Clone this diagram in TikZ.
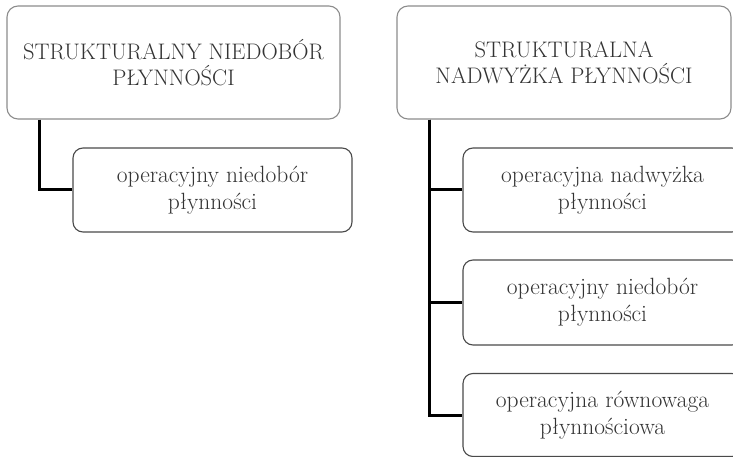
\documentclass[tikz,border=0pt]{standalone}
\usepackage{fontspec}
\begin{document}
\begin{tikzpicture}[x=1pt,y=1pt,
  topbox/.style={draw=topgrey, line width=1.1pt, rounded corners=11pt, minimum width=#1, minimum height=113pt, inner sep=0pt, align=center, text=txtgrey, font=\fontsize{22.5}{26.5}\selectfont},
  subbox/.style={draw=subgrey, line width=1.1pt, rounded corners=10pt, minimum width=279pt, minimum height=#1, inner sep=0pt, align=center, text=txtgrey, font=\fontsize{23.5}{27}\selectfont},
  conn/.style={line width=3pt, black, line join=miter}]
\definecolor{topgrey}{HTML}{8C8C8C}
\definecolor{subgrey}{HTML}{4A4A4A}
\definecolor{txtgrey}{HTML}{333333}
\useasboundingbox (0,0) rectangle (733,-457);
\clip (0,0) rectangle (733,-457);
% left column
\node[topbox=333pt] (lt) at (173.5,-62.5) {STRUKTURALNY NIEDOBÓR\\PŁYNNOŚCI};
\node[subbox=84pt] (lc) at (212.5,-190) {operacyjny niedobór\\płynności};
% right column
\node[topbox=334pt] (rt) at (564,-62.5) {STRUKTURALNA\\NADWYŻKA PŁYNNOŚCI};
\node[subbox=84pt] (r1) at (602.5,-190) {operacyjna nadwyżka\\płynności};
\node[subbox=85pt] (r2) at (602.5,-302.5) {operacyjny niedobór\\płynności};
\node[subbox=83pt] (r3) at (602.5,-415) {operacyjna równowaga\\płynnościowa};
% connectors
\draw[conn] (lt.south west) ++(33,0) |- (lc.west);
\draw[conn] (rt.south west) ++(33,0) |- (r3.west);
\draw[conn] (rt.south west) ++(33,0) |- (r1.west);
\draw[conn] (rt.south west) ++(33,0) |- (r2.west);
\end{tikzpicture}
\end{document}
